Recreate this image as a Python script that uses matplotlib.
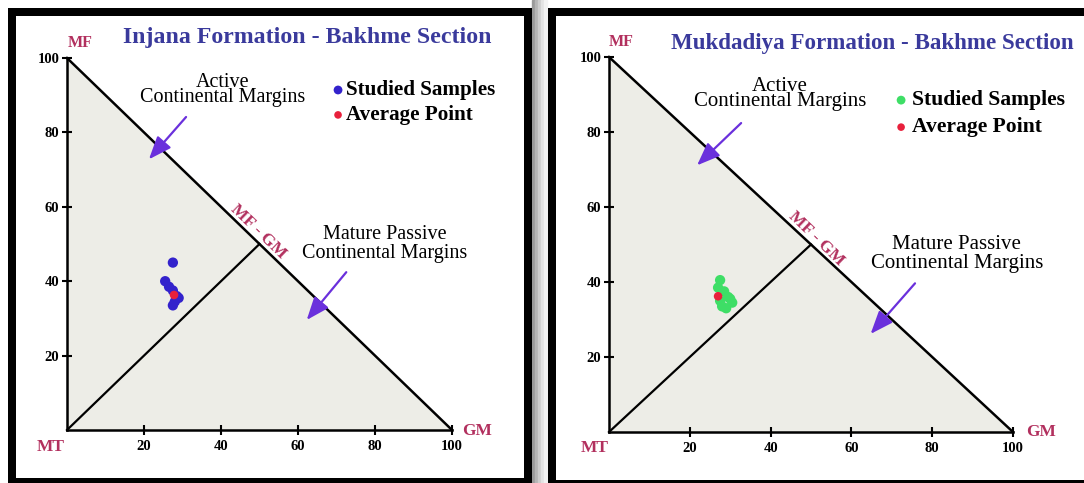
import matplotlib.pyplot as plt
from matplotlib.patches import Rectangle, Polygon

plt.rcParams['font.family'] = ['Liberation Serif', 'DejaVu Serif']

# Injana Formation - Bakhme Section (blue samples)
injana_x = [27.5, 25.5, 26.5, 27.5, 28.5, 28.0, 29.0, 27.5]
injana_y = [45.0, 40.0, 38.5, 37.5, 36.0, 34.5, 35.5, 33.5]
injana_avg = (27.8, 36.3)

# Mukdadiya Formation - Bakhme Section (green samples)
mukdadiya_x = [27.5, 27.0, 28.5, 29.5, 30.5, 28.0, 29.0, 27.5, 30.0]
mukdadiya_y = [40.5, 38.5, 37.5, 36.0, 34.5, 33.5, 33.0, 35.0, 35.5]
mukdadiya_avg = (27.0, 36.2)

# triangle corners MF, MT, GM
corner_names = ['MF', 'MT', 'GM']
corner_x = [0, 0, 100]
corner_y = [100, 0, 0]
tick_values = [20, 40, 60, 80, 100]

W, H = 1084, 483
LABEL_RED = '#b2305e'
TITLE_BLUE = '#3a3a9c'
ARROW_PURPLE = '#6a30dc'


def px_box(x0, y0, x1, y1):
    # pixel box (top-left origin) -> figure fraction rect
    return [x0 / W, (H - y1) / H, (x1 - x0) / W, (y1 - y0) / H]


def draw_panel(ax, title, xs, ys, avg, color, pos):
    ax.set_xlim(0, 100)
    ax.set_ylim(0, 100)
    ax.patch.set_visible(False)
    for side in ['top', 'right']:
        ax.spines[side].set_visible(False)
    for side in ['left', 'bottom']:
        ax.spines[side].set_linewidth(1.8)

    tri = Polygon(list(zip(corner_x, corner_y)), closed=True,
                  facecolor='#ededE7', edgecolor='none', zorder=0)
    ax.add_patch(tri)
    # MF - GM side and the line from MT to its midpoint
    ax.plot([corner_x[0], corner_x[2]], [corner_y[0], corner_y[2]],
            color='black', lw=1.8, clip_on=False, zorder=2)
    ax.plot([corner_x[1], (corner_x[0] + corner_x[2]) / 2],
            [corner_y[1], (corner_y[0] + corner_y[2]) / 2],
            color='black', lw=1.6, clip_on=False, zorder=2)

    ax.set_xticks(tick_values)
    ax.set_yticks(tick_values)
    ax.tick_params(direction='inout', length=7, width=1.5, labelsize=10.5)
    ax.tick_params(axis='y', pad=2)
    ax.tick_params(axis='x', pad=4)
    for lbl in ax.get_xticklabels() + ax.get_yticklabels():
        lbl.set_fontweight('bold')

    # samples and average point
    ax.scatter(xs, ys, s=55, color=color, edgecolors='none', zorder=3)
    ax.scatter([avg[0]], [avg[1]], s=38, color='#e8203c', edgecolors='none', zorder=4)

    # corner names
    ax.text(pos['MF'][0], pos['MF'][1], corner_names[0], color=LABEL_RED,
            fontsize=11.5, fontweight='bold', ha='center', va='center', clip_on=False)
    ax.text(pos['MT'][0], pos['MT'][1], corner_names[1], color=LABEL_RED,
            fontsize=12.5, fontweight='bold', ha='center', va='center', clip_on=False)
    ax.text(pos['GM'][0], pos['GM'][1], corner_names[2], color=LABEL_RED,
            fontsize=12.5, fontweight='bold', ha='center', va='center', clip_on=False)
    ax.text(pos['side'][0], pos['side'][1], 'MF - GM', color=LABEL_RED,
            fontsize=12.5, fontweight='bold', ha='center', va='center',
            rotation=-44, rotation_mode='anchor')

    ax.text(pos['title'][0], pos['title'][1], title, color=TITLE_BLUE,
            fontsize=pos['title_fs'], fontweight='bold', ha='center', va='center',
            clip_on=False)

    ax.text(pos['active'][0], pos['active'][1], 'Active\nContinental Margins',
            fontsize=pos['note_fs'], ha='center', va='center', linespacing=0.7)
    ax.text(pos['mature'][0], pos['mature'][1], 'Mature Passive\nContinental Margins',
            fontsize=pos['note_fs'], ha='center', va='center', linespacing=1.05,
            clip_on=False)

    # arrows pointing at the MF - GM side
    for tail, tip in [pos['arrow1'], pos['arrow2']]:
        ax.annotate('', xy=tip, xytext=tail,
                    arrowprops=dict(arrowstyle='-|>,head_length=1.4,head_width=0.55',
                                    color=ARROW_PURPLE, lw=1.6),
                    zorder=5)

    # legend
    lx, ly1, ly2, tx = pos['legend']
    ax.scatter([lx], [ly1], s=40, color=color, edgecolors='none', clip_on=False)
    ax.scatter([lx], [ly2], s=30, color='#e8203c', edgecolors='none', clip_on=False)
    ax.text(tx, ly1, 'Studied Samples', fontsize=pos['legend_fs'], fontweight='bold',
            ha='left', va='center', clip_on=False)
    ax.text(tx, ly2, 'Average Point', fontsize=pos['legend_fs'], fontweight='bold',
            ha='left', va='center', clip_on=False)


fig = plt.figure(figsize=(W / 100, H / 100), dpi=100)
fig.patch.set_facecolor('white')

# shadow strip between the two framed panels
for i, shade in enumerate(['#9a9a9a', '#b5b5b5', '#cdcdcd', '#e2e2e2', '#f2f2f2']):
    fig.patches.append(Rectangle(((532 + i * 3) / W, 0), 3 / W, 1,
                                 transform=fig.transFigure, color=shade, zorder=0))

# panel frames
lw_frame = 8 * 0.72
fig.patches.append(Rectangle((12 / W, (H - 482) / H), (527.5 - 12) / W, (482 - 12) / H,
                             transform=fig.transFigure, fill=False, ec='black',
                             lw=lw_frame, zorder=1))
fig.patches.append(Rectangle((552 / W, (H - 484) / H), (1096 - 552) / W, (484 - 12) / H,
                             transform=fig.transFigure, fill=False, ec='black',
                             lw=lw_frame, zorder=1))

ax1 = fig.add_axes(px_box(67, 58, 452, 430))
ax2 = fig.add_axes(px_box(609, 57, 1013, 432))

pos_left = {
    'MF': (3.5, 104.0), 'MT': (-4.2, -4.6), 'GM': (106.5, -0.2),
    'side': (49.6, 53.2), 'title': (62.3, 105.4), 'title_fs': 17.2,
    'active': (40.3, 91.5), 'mature': (82.6, 50.0), 'note_fs': 14.5,
    'arrow1': ((31.4, 84.7), (20.8, 72.2)),
    'arrow2': ((73.0, 43.0), (61.8, 29.0)),
    'legend': (70.4, 91.4, 84.7, 72.5), 'legend_fs': 15.2,
}
pos_right = {
    'MF': (3.0, 104.0), 'MT': (-3.5, -4.2), 'GM': (106.9, 0.0),
    'side': (51.2, 51.6), 'title': (65.3, 103.7), 'title_fs': 16.6,
    'active': (42.3, 90.1), 'mature': (86.1, 47.5), 'note_fs': 15.0,
    'arrow1': ((33.2, 82.9), (21.3, 70.6)),
    'arrow2': ((76.2, 40.2), (64.3, 25.6)),
    'legend': (72.3, 88.5, 81.3, 75.0), 'legend_fs': 15.6,
}

draw_panel(ax1, 'Injana Formation - Bakhme Section', injana_x, injana_y,
           injana_avg, '#3322cc', pos_left)
draw_panel(ax2, 'Mukdadiya Formation - Bakhme Section', mukdadiya_x, mukdadiya_y,
           mukdadiya_avg, '#3ede66', pos_right)

fig.savefig('out.png', dpi=100)
